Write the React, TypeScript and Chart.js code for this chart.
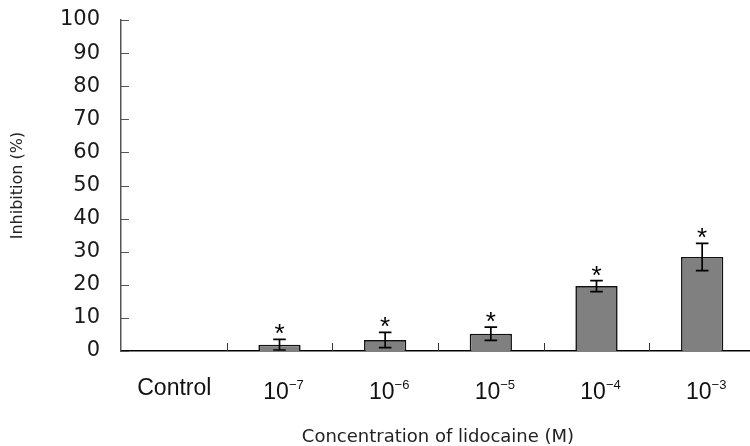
import React, { useEffect, useRef } from 'react';
import { Chart, registerables } from 'chart.js';

Chart.register(...registerables);

const categories = ['Control', '10⁻⁷', '10⁻⁶', '10⁻⁵', '10⁻⁴', '10⁻³'];
const labelBase = ['Control', '10', '10', '10', '10', '10'];
const labelExponent = ['', '−7', '−6', '−5', '−4', '−3'];
const meanInhibition: (number | null)[] = [null, 1.9, 3.3, 5.2, 19.6, 28.4];
const errorInhibition = [0, 1.6, 2.3, 2.0, 1.65, 4.1];
const significant = [false, true, true, true, true, true];
const yTickValues = [0, 10, 20, 30, 40, 50, 60, 70, 80, 90, 100];

const overlayPlugin = {
  id: 'overlay',
  afterDatasetsDraw(chart: any) {
    const ctx = chart.ctx as CanvasRenderingContext2D;
    const xs = chart.scales.x;
    const ys = chart.scales.y;
    ctx.save();
    ctx.strokeStyle = '#000';
    ctx.lineWidth = 1.7;
    const cap = 6.3;
    meanInhibition.forEach((m, i) => {
      if (m == null) return;
      const cx = xs.getPixelForValue(i);
      const top = ys.getPixelForValue(m + errorInhibition[i]);
      const bot = ys.getPixelForValue(Math.max(0, m - errorInhibition[i]));
      ctx.beginPath();
      ctx.moveTo(cx, top);
      ctx.lineTo(cx, bot);
      ctx.moveTo(cx - cap, top);
      ctx.lineTo(cx + cap, top);
      ctx.moveTo(cx - cap, bot);
      ctx.lineTo(cx + cap, bot);
      ctx.stroke();
      if (significant[i]) {
        ctx.fillStyle = '#000';
        ctx.font = '26px "Liberation Sans"';
        ctx.textAlign = 'center';
        ctx.textBaseline = 'alphabetic';
        ctx.fillText('*', cx, top + 3);
      }
    });
    ctx.restore();
  },
  afterDraw(chart: any) {
    const ctx = chart.ctx as CanvasRenderingContext2D;
    const xs = chart.scales.x;
    const ys = chart.scales.y;
    const area = chart.chartArea;
    ctx.save();
    ctx.strokeStyle = '#555';
    ctx.lineWidth = 1;
    yTickValues.forEach((v) => {
      const py = Math.round(ys.getPixelForValue(v)) + 0.5;
      ctx.beginPath();
      ctx.moveTo(area.left, py);
      ctx.lineTo(area.left + 8, py);
      ctx.stroke();
    });
    const step = xs.getPixelForValue(1) - xs.getPixelForValue(0);
    ctx.strokeStyle = '#333';
    for (let i = 1; i < categories.length; i++) {
      const px = Math.round(xs.getPixelForValue(i) - step / 2) + 0.5;
      ctx.beginPath();
      ctx.moveTo(px, area.bottom);
      ctx.lineTo(px, area.bottom - 8);
      ctx.stroke();
    }
    ctx.fillStyle = '#111';
    ctx.textBaseline = 'alphabetic';
    categories.forEach((_, i) => {
      const cx = xs.getPixelForValue(i);
      const base = labelBase[i];
      const exp = labelExponent[i];
      if (!exp) {
        ctx.font = '23px "Liberation Sans"';
        ctx.textAlign = 'center';
        ctx.fillText(base, cx + 0.5, 395);
        return;
      }
      ctx.font = '23px "Liberation Sans"';
      const wBase = ctx.measureText(base).width;
      ctx.font = '13px "Liberation Sans"';
      const wExp = ctx.measureText(exp).width;
      const left = cx + 4 - (wBase + wExp) / 2;
      ctx.textAlign = 'left';
      ctx.font = '23px "Liberation Sans"';
      ctx.fillText(base, left, 399);
      ctx.font = '13px "Liberation Sans"';
      ctx.fillText(exp, left + wBase, 388.5);
    });
    ctx.restore();
  },
};

export default function App() {
  const ref = useRef<HTMLCanvasElement | null>(null);
  useEffect(() => {
    if (!ref.current) return;
    const chart = new Chart(ref.current, {
      type: 'bar',
      data: {
        labels: categories,
        datasets: [
          {
            data: meanInhibition as any,
            backgroundColor: '#808080',
            borderColor: '#111',
            borderWidth: 1.6,
            barPercentage: 0.4,
            categoryPercentage: 1,
          },
        ],
      },
      options: {
        responsive: false,
        animation: false,
        events: [],
        layout: { padding: { top: 20, right: 5, left: 0, bottom: 0 } },
        plugins: { legend: { display: false }, tooltip: { enabled: false } },
        scales: {
          x: {
            offset: true,
            grid: { display: false, drawTicks: false },
            border: { display: true, color: '#000', width: 1.6 },
            ticks: { display: false },
            title: {
              display: true,
              text: 'Concentration of lidocaine (M)',
              color: '#222',
              font: { family: '"DejaVu Sans"', size: 18, lineHeight: 1 },
              padding: { top: 0, bottom: 0 },
            },
            afterFit(scale: any) {
              scale.height = 95;
              scale.paddingLeft = 0;
              scale.paddingRight = 0;
            },
          },
          y: {
            min: 0,
            max: 100,
            afterBuildTicks(scale: any) {
              scale.ticks = yTickValues.map((v) => ({ value: v }));
            },
            grid: { display: false, drawTicks: false },
            border: { display: true, color: '#555', width: 1.5 },
            ticks: {
              padding: 21,
              color: '#1a1a1a',
              font: { family: '"DejaVu Sans"', size: 21 },
            },
            title: {
              display: true,
              text: 'Inhibition (%)',
              color: '#222',
              font: { family: '"DejaVu Sans"', size: 16, lineHeight: 1.2 },
              padding: { top: 8, bottom: 4 },
            },
            afterFit(scale: any) {
              scale.width = 121;
              scale.paddingTop = 0;
              scale.paddingBottom = 0;
            },
          },
        },
      },
      plugins: [overlayPlugin],
    });
    return () => chart.destroy();
  }, []);
  return (
    <div style={{ position: 'fixed', left: 0, top: 0, width: 750, height: 446, overflow: 'hidden', background: '#fff' }}>
      <canvas ref={ref} width={760} height={446} style={{ display: 'block' }} />
    </div>
  );
}
